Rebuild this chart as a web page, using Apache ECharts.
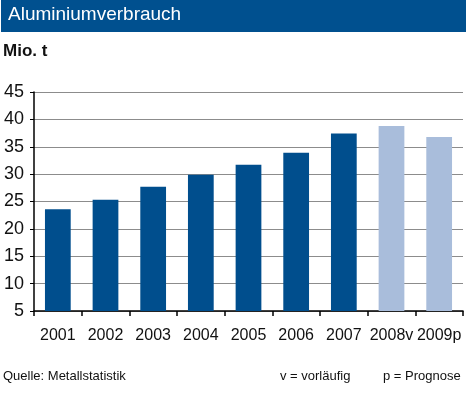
<!DOCTYPE html>
<html><head><meta charset="utf-8">
<script src="https://cdn.jsdelivr.net/npm/echarts@6/dist/echarts.min.js"></script>
<style>html,body{margin:0;padding:0;background:#fff}#c{width:469px;height:406px}</style>
</head><body><div id="c"></div>
<script>
const categories = ['2001','2002','2003','2004','2005','2006','2007','2008v','2009p'];
const values = [23.6, 25.3, 27.7, 29.9, 31.7, 33.9, 37.4, 38.8, 36.8];
const provisional = [false, false, false, false, false, false, false, true, true];
const yTicks = [5, 10, 15, 20, 25, 30, 35, 40, 45];

const dark = '#004E8D', light = '#A9BDDB';
const FF = 'Liberation Sans, Arial, sans-serif';
const chart = echarts.init(document.getElementById('c'), null, {renderer:'canvas'});
chart.setOption({
  animation:false,
  backgroundColor:'#fff',
  textStyle:{fontFamily:FF},
  graphic:[
    {type:'rect', left:1, top:0, shape:{width:465, height:32}, style:{fill:'#00508F'}, z:0},
    {type:'text', left:8, top:5, style:{text:'Aluminiumverbrauch', fill:'#fff', font:'19px ' + FF}},
    {type:'text', left:3, top:43, style:{text:'Mio. t', fill:'#111', font:'bold 17px ' + FF}},
    {type:'text', left:3, top:370, style:{text:'Quelle: Metallstatistik', fill:'#111', font:'13px ' + FF}},
    {type:'text', left:280, top:370, style:{text:'v = vorläufig', fill:'#111', font:'13px ' + FF}},
    {type:'text', left:383, top:370, style:{text:'p = Prognose', fill:'#111', font:'13px ' + FF}}
  ],
  grid:{left:34, right:6, top:92, bottom:95, containLabel:false},
  xAxis:{
    type:'category', data:categories,
    axisLine:{lineStyle:{color:'#000', width:1.5}},
    axisTick:{show:true, length:5, lineStyle:{color:'#000', width:1.5}},
    axisLabel:{color:'#111', fontSize:16, margin:17, interval:0}
  },
  yAxis:{
    type:'value', min:yTicks[0], max:yTicks[yTicks.length-1], interval:5,
    axisLine:{show:true, lineStyle:{color:'#000', width:1.5}},
    axisTick:{show:true, length:4, lineStyle:{color:'#000'}},
    axisLabel:{color:'#111', fontSize:18, margin:10},
    splitLine:{lineStyle:{color:'#8c8c8c', width:1}}
  },
  series:[{
    type:'bar', barWidth:'54%',
    data: values.map((v,i)=>({value:v, itemStyle:{color: provisional[i]?light:dark}}))
  }]
});
</script></body></html>
